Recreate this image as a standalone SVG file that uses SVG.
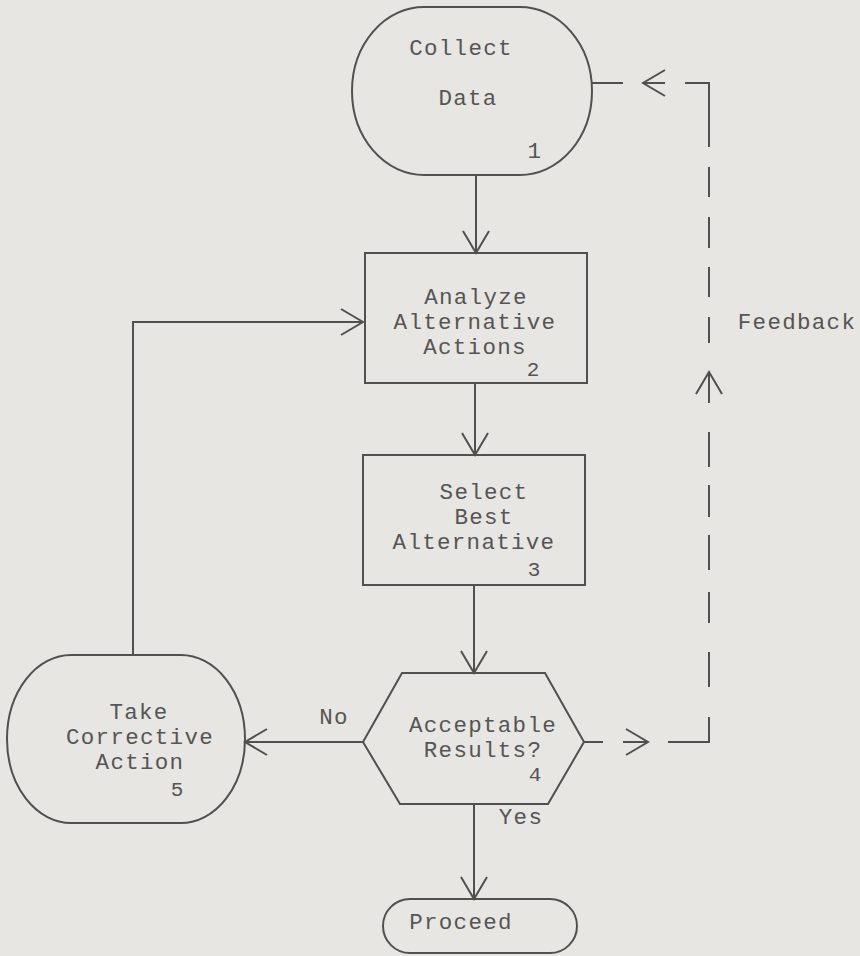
<svg xmlns="http://www.w3.org/2000/svg" width="860" height="956" viewBox="0 0 860 956">
<style>
.bg{fill:#e7e6e2}
.shape{fill:none;stroke:#505050;stroke-width:2}
.line{fill:none;stroke:#505050;stroke-width:2}
.t{font-family:"Liberation Mono","Courier New",monospace;font-size:22.5px;letter-spacing:1.3px;fill:#555;text-anchor:middle}
.n{font-family:"Liberation Mono","Courier New",monospace;font-size:21px;fill:#555;text-anchor:middle}
</style>
<defs>
<marker id="arr" viewBox="-24 -15 26 30" refX="0" refY="0" markerWidth="26" markerHeight="30" markerUnits="userSpaceOnUse" orient="auto">
<path d="M-22,-13 L0,0 L-22,13" fill="none" stroke="#505050" stroke-width="2"/>
</marker>
</defs>
<rect class="bg" x="0" y="0" width="860" height="956"/>

<g id="connectors">
<line class="line" x1="476" y1="175" x2="476" y2="253" marker-end="url(#arr)"/>
<line class="line" x1="475" y1="383" x2="475" y2="455" marker-end="url(#arr)"/>
<line class="line" x1="474" y1="585" x2="474" y2="673" marker-end="url(#arr)"/>
<line class="line" x1="474" y1="804" x2="474" y2="899" marker-end="url(#arr)"/>
<line class="line" x1="363" y1="742" x2="245" y2="742" marker-end="url(#arr)"/>
<polyline class="line" points="133,655 133,322 363,322" marker-end="url(#arr)"/>
<line class="line" x1="592" y1="83" x2="623" y2="83"/>
<line class="line" x1="665" y1="83" x2="643" y2="83" marker-end="url(#arr)"/>
<path class="line" d="M685,83 L709,83 L709,147 M709,167 L709,197 M709,217 L709,248 M709,267 L709,297 M709,317 L709,343 M709,432 L709,467 M709,485 L709,517 M709,535 L709,570 M709,592 L709,623 M709,652 L709,687 M709,717 L709,742 L668,742"/>
<line class="line" x1="709" y1="403" x2="709" y2="372" marker-end="url(#arr)"/>
<line class="line" x1="584" y1="742" x2="603" y2="742"/>
<line class="line" x1="623" y1="742" x2="648" y2="742" marker-end="url(#arr)"/>
<text class="t" x="334" y="724">No</text>
<text class="t" x="521" y="824">Yes</text>
<text class="t" x="797" y="329">Feedback</text>
</g>

<g id="node1">
<rect class="shape" x="352" y="7" width="240" height="168" rx="72" ry="84"/>
<text class="t" x="461" y="55">Collect</text>
<text class="t" x="468" y="105">Data</text>
<text class="t" x="535" y="158">1</text>
</g>

<g id="node2">
<rect class="shape" x="365" y="253" width="222" height="130"/>
<text class="t" x="476" y="304">Analyze</text>
<text class="t" x="475" y="329">Alternative</text>
<text class="t" x="475" y="354">Actions</text>
<text class="n" x="533" y="376">2</text>
</g>

<g id="node3">
<rect class="shape" x="363" y="455" width="222" height="130"/>
<text class="t" x="484" y="499">Select</text>
<text class="t" x="484" y="524">Best</text>
<text class="t" x="474" y="549">Alternative</text>
<text class="n" x="534" y="576">3</text>
</g>

<g id="node4">
<polygon class="shape" points="402,673 545,673 584,742 548,804 400,804 363,742"/>
<text class="t" x="483" y="732">Acceptable</text>
<text class="t" x="483" y="757">Results?</text>
<text class="n" x="535" y="781">4</text>
</g>

<g id="node5">
<rect class="shape" x="7" y="655" width="238" height="168" rx="64" ry="84"/>
<text class="t" x="139" y="719">Take</text>
<text class="t" x="140" y="744">Corrective</text>
<text class="t" x="140" y="769">Action</text>
<text class="n" x="177" y="796">5</text>
</g>

<g id="node6">
<rect class="shape" x="383" y="899" width="194" height="54" rx="27" ry="27"/>
<text class="t" x="461" y="929">Proceed</text>
</g>
</svg>
